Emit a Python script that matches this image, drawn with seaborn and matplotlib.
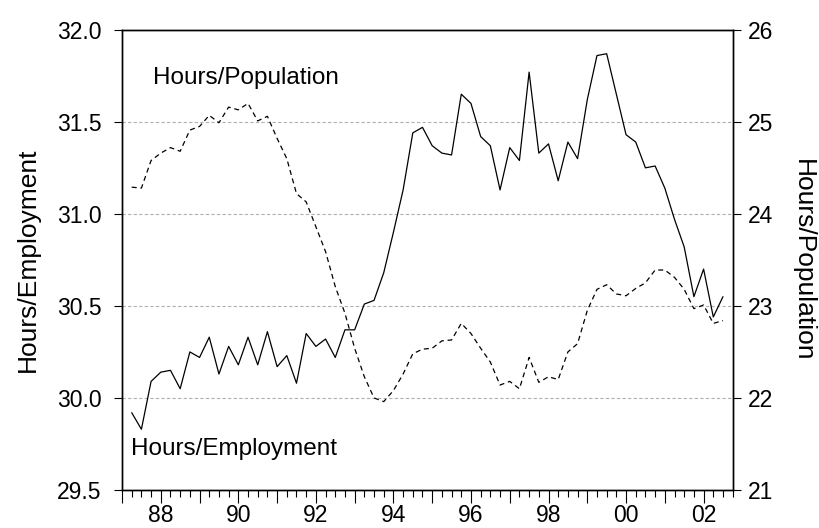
import numpy as np
import pandas as pd
import matplotlib
matplotlib.use("Agg")
import matplotlib.pyplot as plt
from matplotlib.ticker import MultipleLocator, FixedLocator
import seaborn as sns

# quarterly data, 1987Q2 - 2002Q3
start_quarter = "1987Q2"

hours_employment = [
    29.92, 29.83, 30.09, 30.14, 30.15, 30.05, 30.25, 30.22, 30.33, 30.13,
    30.28, 30.18, 30.33, 30.18, 30.36, 30.17, 30.23, 30.08, 30.35, 30.28,
    30.32, 30.22, 30.37, 30.37, 30.51, 30.53, 30.68, 30.90, 31.13, 31.44,
    31.47, 31.37, 31.33, 31.32, 31.65, 31.60, 31.42, 31.37, 31.13, 31.36,
    31.29, 31.77, 31.33, 31.38, 31.18, 31.39, 31.30, 31.62, 31.86, 31.87,
    31.65, 31.43, 31.39, 31.25, 31.26, 31.14, 30.97, 30.82, 30.55, 30.70,
    30.44, 30.55,
]

hours_population = [
    24.29, 24.28, 24.58, 24.66, 24.72, 24.68, 24.91, 24.95, 25.07, 24.99,
    25.16, 25.13, 25.20, 25.01, 25.06, 24.82, 24.60, 24.22, 24.13, 23.86,
    23.59, 23.21, 22.92, 22.54, 22.23, 22.00, 21.96, 22.08, 22.26, 22.48,
    22.53, 22.54, 22.62, 22.63, 22.81, 22.70, 22.54, 22.39, 22.14, 22.18,
    22.10, 22.44, 22.17, 22.23, 22.20, 22.50, 22.59, 22.95, 23.18, 23.23,
    23.13, 23.11, 23.19, 23.25, 23.39, 23.39, 23.31, 23.18, 22.97, 23.01,
    22.81, 22.84,
]

year_ticks = [1988, 1990, 1992, 1994, 1996, 1998, 2000, 2002]
year_labels = ["88", "90", "92", "94", "96", "98", "00", "02"]

periods = pd.period_range(start_quarter, periods=len(hours_employment), freq="Q")
df = pd.DataFrame({
    "t": periods.year + (periods.quarter - 1) / 4.0,
    "emp": hours_employment,
    "pop": hours_population,
})

sns.set_theme(style="ticks")
plt.rcParams["font.family"] = ["Liberation Sans", "DejaVu Sans"]
plt.rcParams["text.color"] = "black"
plt.rcParams["axes.labelcolor"] = "black"
plt.rcParams["xtick.color"] = "black"
plt.rcParams["ytick.color"] = "black"

fig = plt.figure(figsize=(8.2, 5.28), dpi=100)
ax = fig.add_axes([0.1488, 0.072, 0.7447, 0.8716])
ax2 = ax.twinx()

sns.lineplot(data=df, x="t", y="emp", ax=ax, color="black", linewidth=0.9)
sns.lineplot(data=df, x="t", y="pop", ax=ax2, color="black", linewidth=0.9,
             linestyle=(0, (4, 3)))

ax.set_xlim(1987.0, 2002.75)
ax.set_ylim(29.5, 32.0)
ax2.set_ylim(21, 26)

ax.yaxis.set_major_locator(MultipleLocator(0.5))
ax2.yaxis.set_major_locator(MultipleLocator(1))
ax.yaxis.set_major_formatter(matplotlib.ticker.FormatStrFormatter("%.1f"))

# every year a long tick, label every other year, quarters as short ticks
ax.xaxis.set_major_locator(FixedLocator(np.arange(1987, 2003)))
ax.xaxis.set_minor_locator(MultipleLocator(0.25))
ax.set_xticklabels(["" if y not in year_ticks else year_labels[year_ticks.index(y)]
                    for y in range(1987, 2003)])

for y in [30.0, 30.5, 31.0, 31.5]:
    ax.axhline(y, color="#b0b0b0", linewidth=0.8, linestyle=(0, (3, 2)), zorder=0)

ax.tick_params(axis="x", which="major", length=9.4, width=0.8,
               labelsize=16.5, pad=1)
ax.tick_params(axis="x", which="minor", length=4.8, width=0.8)
ax.tick_params(axis="y", length=5.8, width=0.8, labelsize=16.5, pad=9)
ax2.tick_params(axis="y", length=5.8, width=0.8, labelsize=16.5, pad=5)

for a in (ax, ax2):
    for s in a.spines.values():
        s.set_visible(True)
        s.set_color("black")
        s.set_linewidth(1.0)

ax.set_xlabel("")
ax.set_ylabel("Hours/Employment", fontsize=19)
ax2.set_ylabel("Hours/Population", fontsize=19, rotation=-90, labelpad=30)
ax.yaxis.set_label_coords(-0.135, 0.5)

ax.text(1987.79, 31.74, "Hours/Population", fontsize=17.5, va="center", ha="left")
ax.text(1987.23, 29.725, "Hours/Employment", fontsize=17.5, va="center", ha="left")

fig.savefig("out.png", dpi=100)
